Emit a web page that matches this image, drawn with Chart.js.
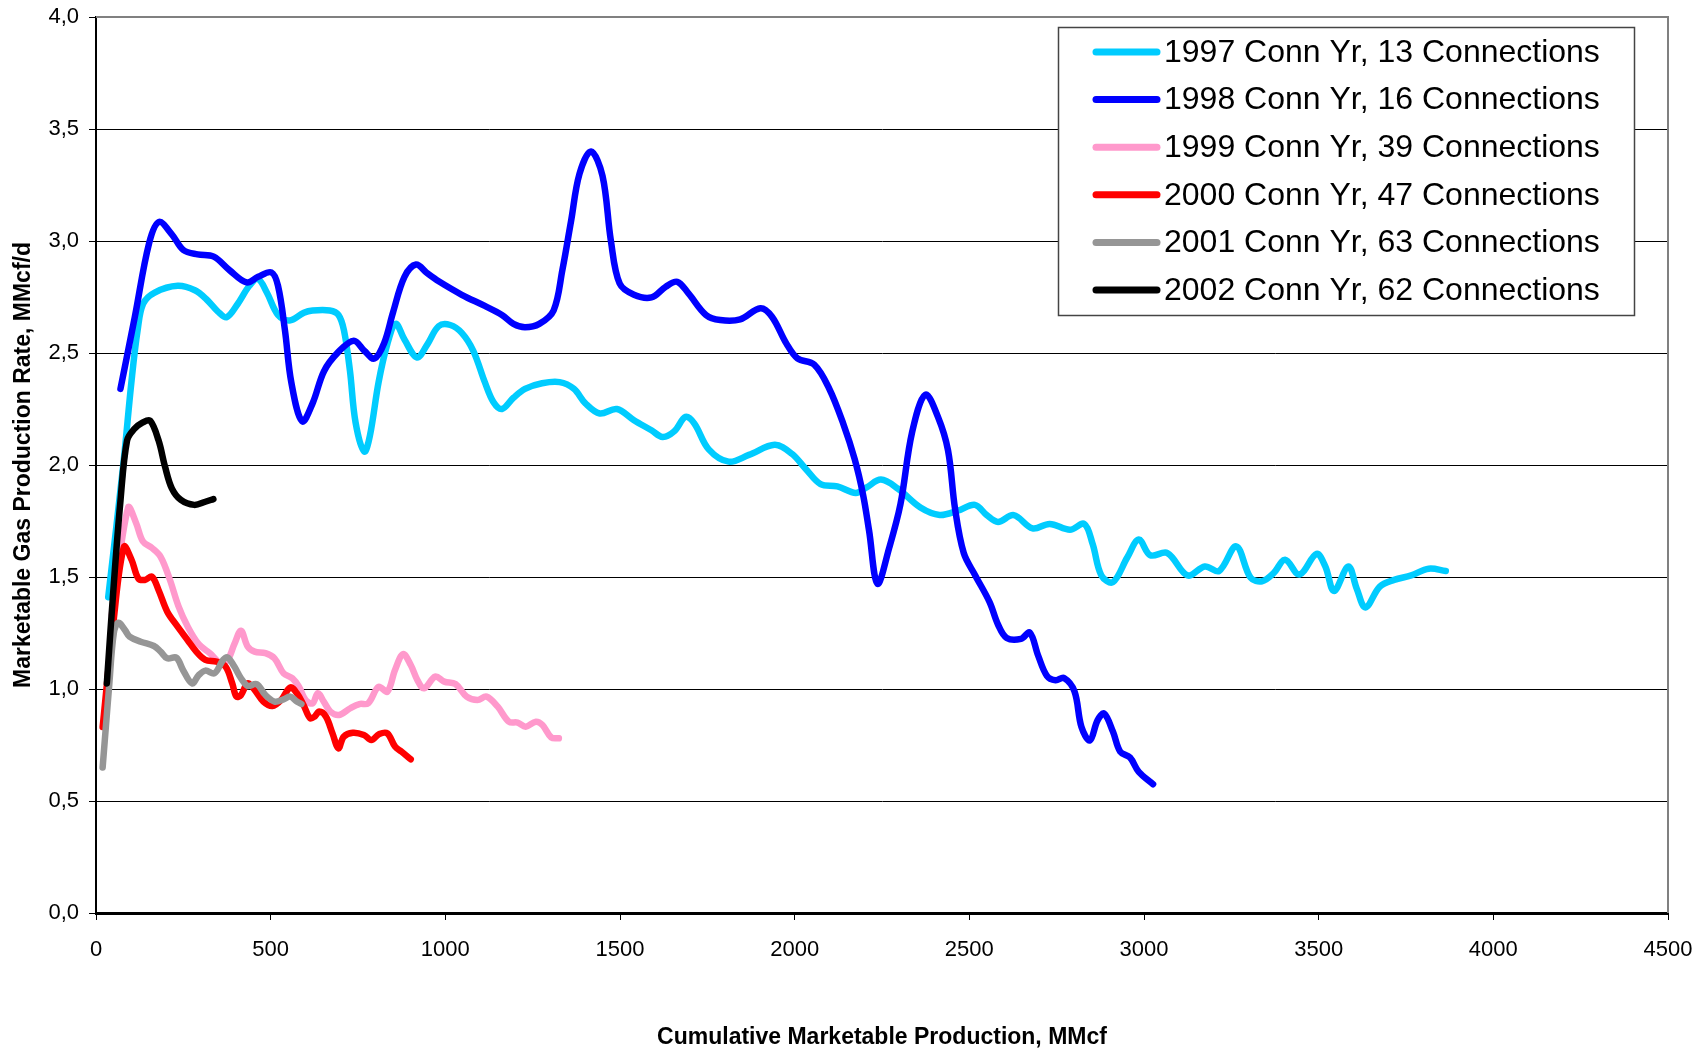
<!DOCTYPE html>
<html>
<head>
<meta charset="utf-8">
<script src="https://cdn.jsdelivr.net/npm/chart.js@4.4.1/dist/chart.umd.min.js"></script>
<style>
  html, body { margin: 0; padding: 0; background: #fff; }
  #wrap { width: 1705px; height: 1050px; }
</style>
</head>
<body>
<div id="wrap"><canvas id="chart-decline" width="1705" height="1050"></canvas></div>
<script>
// series names and colours (Excel style)
var seriesLabels = ["1997 Conn Yr, 13 Connections", "1998 Conn Yr, 16 Connections", "1999 Conn Yr, 39 Connections",
                    "2000 Conn Yr, 47 Connections", "2001 Conn Yr, 63 Connections", "2002 Conn Yr, 62 Connections"];
var seriesColors = ["#00CCFF", "#0000FF", "#FF99CC", "#FF0000", "#969696", "#000000"];

// cumulative production (MMcf) and rate (MMcf/d)
var cum1997 = [35, 78, 102, 119, 135, 168, 234, 283, 316, 349, 374, 406, 439, 464, 489, 521, 554, 595, 620, 669, 694, 710, 727, 743, 768, 784, 809, 834, 858, 883, 919, 949, 981, 1014, 1047, 1080, 1113, 1138, 1162, 1195, 1228, 1277, 1327, 1368, 1401, 1442, 1491, 1540, 1590, 1622, 1655, 1688, 1713, 1754, 1811, 1869, 1943, 1992, 2033, 2074, 2122, 2175, 2206, 2247, 2295, 2360, 2415, 2467, 2516, 2550, 2582, 2627, 2681, 2730, 2788, 2829, 2853, 2878, 2911, 2952, 2985, 3018, 3067, 3125, 3174, 3215, 3264, 3305, 3338, 3371, 3404, 3445, 3494, 3519, 3544, 3585, 3609, 3634, 3675, 3716, 3765, 3815, 3864];
var rate1997 = [1.41, 2.0, 2.38, 2.6, 2.72, 2.77, 2.80, 2.78, 2.74, 2.685, 2.66, 2.72, 2.80, 2.83, 2.77, 2.67, 2.645, 2.68, 2.69, 2.69, 2.67, 2.60, 2.42, 2.19, 2.06, 2.13, 2.37, 2.54, 2.63, 2.56, 2.48, 2.54, 2.62, 2.625, 2.59, 2.51, 2.37, 2.28, 2.25, 2.30, 2.34, 2.365, 2.37, 2.34, 2.275, 2.23, 2.25, 2.20, 2.155, 2.125, 2.15, 2.215, 2.185, 2.07, 2.015, 2.045, 2.09, 2.05, 1.98, 1.915, 1.905, 1.875, 1.90, 1.935, 1.895, 1.81, 1.777, 1.796, 1.822, 1.776, 1.746, 1.776, 1.717, 1.737, 1.711, 1.737, 1.647, 1.507, 1.477, 1.587, 1.667, 1.597, 1.607, 1.507, 1.547, 1.527, 1.637, 1.497, 1.481, 1.517, 1.577, 1.511, 1.603, 1.547, 1.438, 1.547, 1.448, 1.364, 1.457, 1.487, 1.507, 1.537, 1.527];

var cum1998 = [70, 111, 152, 180, 217, 250, 291, 337, 382, 431, 464, 502, 521, 541, 559, 590, 620, 653, 694, 738, 768, 797, 825, 850, 883, 916, 949, 981, 1047, 1113, 1162, 1195, 1228, 1269, 1310, 1335, 1360, 1384, 1417, 1450, 1474, 1499, 1540, 1590, 1631, 1664, 1696, 1746, 1787, 1844, 1902, 1935, 1976, 2008, 2056, 2098, 2139, 2172, 2196, 2213, 2237, 2270, 2303, 2336, 2374, 2410, 2439, 2459, 2484, 2517, 2558, 2582, 2607, 2648, 2673, 2697, 2722, 2747, 2771, 2801, 2821, 2845, 2867, 2886, 2911, 2932, 2960, 2985, 3026];
var rate1998 = [2.34, 2.66, 2.99, 3.085, 3.03, 2.96, 2.94, 2.93, 2.87, 2.815, 2.84, 2.86, 2.80, 2.60, 2.37, 2.195, 2.275, 2.42, 2.505, 2.555, 2.51, 2.475, 2.545, 2.68, 2.84, 2.895, 2.855, 2.82, 2.76, 2.71, 2.67, 2.63, 2.615, 2.63, 2.69, 2.87, 3.09, 3.30, 3.40, 3.29, 3.00, 2.81, 2.76, 2.748, 2.796, 2.818, 2.766, 2.67, 2.647, 2.65, 2.70, 2.662, 2.543, 2.476, 2.448, 2.344, 2.185, 2.025, 1.866, 1.707, 1.47, 1.627, 1.826, 2.145, 2.314, 2.215, 2.065, 1.806, 1.607, 1.507, 1.388, 1.288, 1.228, 1.224, 1.252, 1.149, 1.059, 1.039, 1.049, 0.989, 0.830, 0.770, 0.860, 0.890, 0.810, 0.720, 0.694, 0.630, 0.575];

var cum1999 = [45, 92, 115, 134, 160, 185, 211, 236, 262, 294, 326, 358, 377, 396, 415, 434, 454, 485, 511, 537, 562, 581, 600, 620, 635, 652, 671, 696, 728, 754, 779, 809, 834, 856, 879, 901, 920, 939, 971, 997, 1029, 1061, 1092, 1118, 1150, 1182, 1207, 1230, 1259, 1278, 1303, 1325];
var rate1999 = [1.33, 1.81, 1.74, 1.66, 1.63, 1.59, 1.49, 1.37, 1.28, 1.20, 1.16, 1.115, 1.13, 1.20, 1.26, 1.19, 1.167, 1.16, 1.137, 1.07, 1.048, 1.01, 0.951, 0.936, 0.981, 0.944, 0.899, 0.884, 0.914, 0.933, 0.936, 1.01, 0.988, 1.085, 1.156, 1.107, 1.04, 1.003, 1.055, 1.033, 1.022, 0.966, 0.951, 0.966, 0.921, 0.854, 0.85, 0.832, 0.854, 0.839, 0.784, 0.78];

var cum2000 = [19, 50, 80, 102, 121, 140, 160, 179, 204, 230, 262, 287, 313, 345, 371, 390, 402, 415, 434, 454, 479, 505, 530, 556, 575, 594, 613, 626, 639, 658, 677, 694, 709, 735, 767, 788, 811, 834, 856, 875, 901];
var rate2000 = [0.83, 1.30, 1.635, 1.576, 1.494, 1.487, 1.502, 1.442, 1.345, 1.286, 1.219, 1.167, 1.13, 1.122, 1.10, 1.025, 0.966, 0.973, 1.025, 0.996, 0.944, 0.924, 0.951, 1.007, 0.981, 0.929, 0.869, 0.877, 0.899, 0.877, 0.802, 0.735, 0.787, 0.805, 0.795, 0.772, 0.799, 0.802, 0.743, 0.72, 0.686];

var cum2001 = [19, 38, 51, 64, 83, 96, 128, 166, 185, 204, 230, 249, 275, 294, 313, 339, 364, 377, 396, 415, 434, 460, 485, 511, 537, 556, 575, 588];
var rate2001 = [0.65, 1.02, 1.25, 1.296, 1.263, 1.234, 1.211, 1.192, 1.167, 1.137, 1.14, 1.085, 1.025, 1.062, 1.082, 1.07, 1.13, 1.141, 1.10, 1.048, 1.014, 1.022, 0.973, 0.944, 0.954, 0.966, 0.944, 0.933];

var cum2002 = [31, 51, 70, 89, 109, 134, 155, 179, 198, 217, 243, 281, 313, 336];
var rate2002 = [1.025, 1.47, 1.84, 2.11, 2.16, 2.19, 2.198, 2.11, 1.99, 1.896, 1.844, 1.822, 1.836, 1.848];

var cumAll = [cum1997, cum1998, cum1999, cum2000, cum2001, cum2002];
var rateAll = [rate1997, rate1998, rate1999, rate2000, rate2001, rate2002];

var fontFamily = '"Liberation Sans", Arial, sans-serif';

function toPoints(xs, ys) {
    return xs.map(function(x, i) { return { x: x, y: ys[i] }; });
}

// gray frame on top and right of the plot area
var plotFrame = {
    id: 'plotFrame',
    beforeDatasetsDraw: function(chart) {
        var a = chart.chartArea, c = chart.ctx;
        c.save();
        c.strokeStyle = '#808080';
        c.lineWidth = 2;
        c.beginPath();
        c.moveTo(a.left, a.top);
        c.lineTo(a.right, a.top);
        c.lineTo(a.right, a.bottom);
        c.stroke();
        c.restore();
    }
};

// boxed legend inside the plot, top right
var legendBox = {
    id: 'legendBox',
    afterDraw: function(chart) {
        var c = chart.ctx;
        var bx = 1058, by = 27, bw = 576, bh = 288;
        c.save();
        c.fillStyle = '#fff';
        c.fillRect(bx, by, bw, bh);
        c.strokeStyle = '#444';
        c.lineWidth = 1.5;
        c.strokeRect(bx + 0.5, by + 0.5, bw, bh);
        c.font = '32px ' + fontFamily;
        c.textBaseline = 'middle';
        c.textAlign = 'left';
        c.lineCap = 'round';
        seriesLabels.forEach(function(label, i) {
            var y = by + 25 + i * 47.6;
            c.strokeStyle = seriesColors[i];
            c.lineWidth = 7;
            c.beginPath();
            c.moveTo(1096, y);
            c.lineTo(1157, y);
            c.stroke();
            c.fillStyle = '#000';
            c.fillText(label, 1164, y + 1);
        });
        c.restore();
    }
};

var ctx = document.getElementById('chart-decline');
var myLineChart = new Chart(ctx, {
    type: 'line',
    data: {
        datasets: seriesLabels.map(function(label, i) {
            return {
                label: label,
                data: toPoints(cumAll[i], rateAll[i]),
                borderColor: seriesColors[i],
                backgroundColor: seriesColors[i],
                borderWidth: 6.5,
                borderCapStyle: 'round',
                borderJoinStyle: 'round',
                pointRadius: 0,
                tension: 0.35,
                fill: false,
                order: seriesLabels.length - 1 - i
            };
        })
    },
    options: {
        responsive: false,
        animation: false,
        layout: { padding: { left: 0, top: 17, right: 37, bottom: 0 } },
        plugins: {
            legend: { display: false },
            title: { display: false },
            tooltip: { enabled: false }
        },
        scales: {
            x: {
                type: 'linear',
                min: 0,
                max: 4500,
                ticks: { stepSize: 500, color: '#000', padding: 17, maxRotation: 0,
                         font: { family: fontFamily, size: 22 },
                         callback: function(v) { return String(v); } },
                grid: { drawOnChartArea: false, drawTicks: true, tickLength: 7, tickColor: '#000', tickWidth: 1 },
                border: { color: '#000', width: 3 },
                title: { display: true, text: 'Cumulative Marketable Production, MMcf', color: '#000',
                         font: { family: fontFamily, size: 23, weight: 'bold', lineHeight: 1 }, padding: { top: 0, bottom: 1 } },
                afterFit: function(scale) {
                    scale.height = 137;
                    scale.paddingLeft = 0;
                    scale.paddingRight = 0;
                }
            },
            y: {
                min: 0,
                max: 4,
                ticks: { stepSize: 0.5, color: '#000', padding: 10,
                         font: { family: fontFamily, size: 22 },
                         callback: function(v) { return v.toFixed(1).replace('.', ','); } },
                grid: { color: '#000', lineWidth: 1, drawTicks: true, tickLength: 7, tickColor: '#000' },
                border: { color: '#000', width: 2 },
                title: { display: true, text: 'Marketable Gas Production Rate, MMcf/d', color: '#000',
                         font: { family: fontFamily, size: 23, weight: 'bold' }, padding: { top: 10, bottom: 0 } },
                afterFit: function(scale) {
                    scale.width = 96;
                    scale.paddingTop = 0;
                    scale.paddingBottom = 0;
                }
            }
        }
    },
    plugins: [plotFrame, legendBox]
});
</script>
</body>
</html>
